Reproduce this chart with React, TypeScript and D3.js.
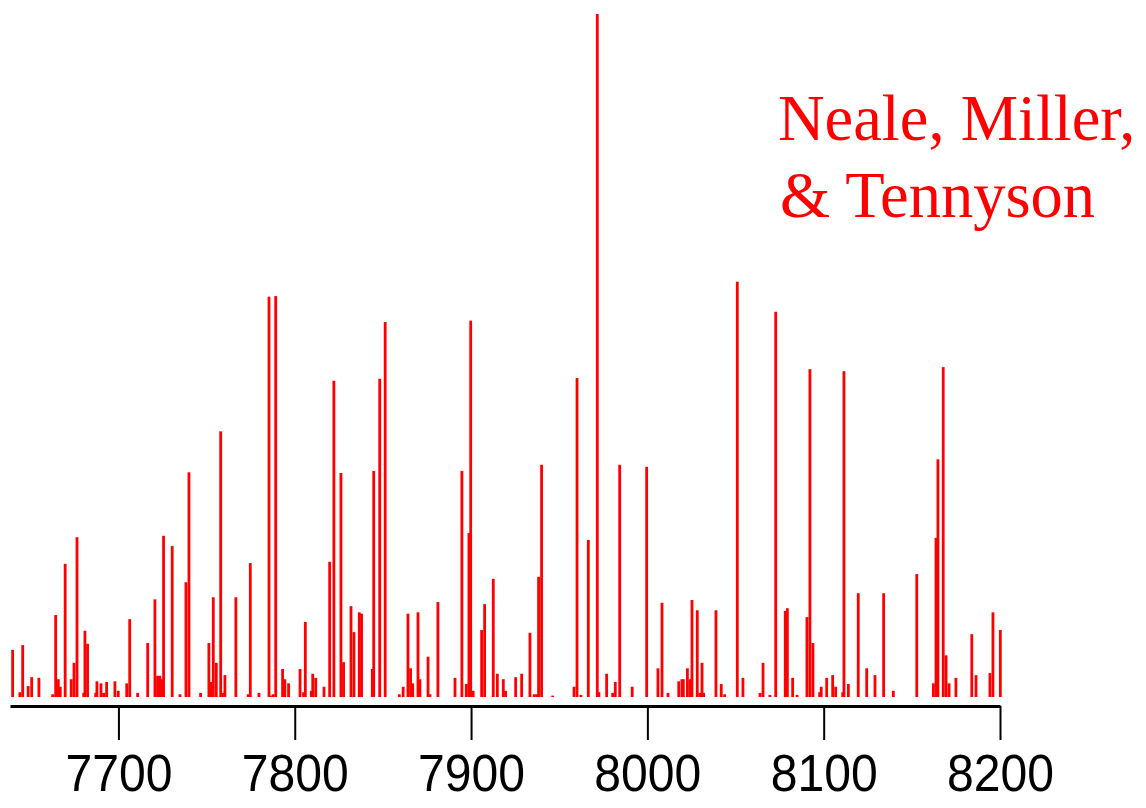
import React, { useRef, useEffect } from 'react';
import * as d3 from 'd3';

// line positions (cm-1) and relative intensities (% of strongest line)
const wavenumbers = [
  7640.0, 7644.1, 7645.7, 7648.8, 7650.8, 7654.9, 7662.7, 7664.4, 7665.9, 7667.0,
  7669.8, 7673.2, 7674.8, 7676.5, 7680.3, 7681.0, 7682.5, 7687.1, 7687.8, 7690.1,
  7691.6, 7693.3, 7698.0, 7699.9, 7704.7, 7706.4, 7710.9, 7716.6, 7720.7, 7722.2,
  7723.5, 7724.8, 7725.6, 7730.5, 7734.9, 7738.3, 7740.0, 7746.6, 7751.3, 7752.6,
  7753.8, 7755.5, 7758.0, 7759.1, 7760.4, 7766.6, 7773.6, 7774.8, 7779.7, 7785.4,
  7786.5, 7787.8, 7789.2, 7793.1, 7794.4, 7796.5, 7803.0, 7805.0, 7806.0, 7809.4,
  7810.2, 7811.9, 7816.6, 7819.8, 7822.2, 7826.2, 7827.7, 7831.9, 7833.6, 7836.6,
  7837.9, 7844.0, 7844.8, 7848.2, 7851.3, 7859.3, 7861.5, 7864.2, 7865.7, 7866.9,
  7869.9, 7871.0, 7875.6, 7876.7, 7881.2, 7890.9, 7894.8, 7897.3, 7898.8, 7899.8,
  7901.2, 7906.0, 7907.7, 7912.6, 7914.9, 7918.3, 7919.6, 7925.3, 7928.7, 7933.4,
  7935.8, 7937.2, 7938.3, 7940.0, 7946.3, 7958.4, 7960.1, 7962.3, 7966.5, 7971.6,
  7972.5, 7976.9, 7980.3, 7981.8, 7984.3, 7991.4, 7999.6, 8006.0, 8008.3, 8011.7,
  8017.8, 8019.6, 8020.4, 8022.7, 8024.2, 8025.3, 8028.3, 8029.8, 8031.0, 8031.9,
  8038.9, 8041.9, 8043.8, 8051.0, 8054.2, 8063.9, 8065.6, 8069.5, 8072.8, 8078.2,
  8079.4, 8082.4, 8084.9, 8090.5, 8092.2, 8093.9, 8097.7, 8098.6, 8101.7, 8105.1,
  8106.8, 8110.8, 8111.5, 8114.0, 8119.6, 8124.4, 8129.1, 8134.0, 8139.5, 8152.8,
  8162.2, 8163.7, 8164.8, 8167.8, 8169.4, 8171.1, 8175.0, 8184.0, 8186.4, 8194.3,
  8196.0, 8200.2,
];

const intensities = [
  6.9, 0.7, 7.6, 1.6, 2.9, 2.8, 0.4, 12.0, 2.6, 1.5,
  19.5, 2.6, 5.0, 23.4, 0.6, 9.7, 7.8, 0.6, 2.3, 2.0,
  0.6, 2.2, 2.3, 0.9, 2.0, 11.4, 0.6, 7.9, 14.3, 3.1,
  3.1, 2.6, 23.6, 22.1, 0.4, 16.8, 32.9, 0.6, 7.9, 2.2,
  14.6, 5.0, 38.9, 0.6, 3.2, 14.6, 0.4, 19.6, 0.6, 58.6,
  0.2, 0.4, 58.7, 4.1, 2.6, 2.0, 4.1, 0.7, 11.0, 0.9,
  3.4, 2.8, 1.5, 19.8, 46.3, 32.8, 5.1, 13.3, 9.5, 12.4,
  12.2, 4.1, 33.1, 46.6, 54.9, 0.4, 1.5, 12.2, 4.2, 2.0,
  12.4, 2.6, 5.9, 0.4, 13.9, 2.8, 33.1, 1.9, 24.0, 55.1,
  0.9, 9.8, 13.6, 17.3, 3.4, 2.6, 0.9, 2.9, 3.4, 9.4,
  0.4, 0.4, 17.6, 34.0, 0.2, 1.5, 46.7, 0.3, 23.0, 100,
  0.7, 3.4, 0.6, 2.2, 34.0, 1.5, 33.7, 4.2, 13.8, 0.6,
  2.3, 2.6, 2.6, 4.2, 2.6, 14.2, 12.7, 0.6, 5.0, 0.6,
  12.7, 1.9, 0.4, 60.8, 2.8, 0.6, 5.0, 0.3, 56.4, 12.6,
  13.0, 2.8, 0.3, 11.7, 48.0, 7.9, 0.7, 1.5, 2.8, 3.2,
  1.5, 0.7, 47.7, 1.9, 15.2, 4.2, 3.2, 15.2, 0.9, 18.0,
  2.0, 23.3, 34.8, 48.3, 6.1, 2.0, 2.8, 9.2, 3.2, 3.5,
  12.4, 9.8,
];

const tickValues = [7700, 7800, 7900, 8000, 8100, 8200];
const labelLines = ['Neale, Miller,', '& Tennyson'];

const App = () => {
  const svgRef = useRef(null);

  useEffect(() => {
    const svg = d3.select(svgRef.current);
    svg.selectAll('*').remove();

    const width = 1146;
    const height = 808;
    const axisY = 706;
    const baseY = 697;

    svg.attr('width', width).attr('height', height);

    const x = d3.scaleLinear().domain([7638.5, 8200]).range([10, 1000]);
    const y = d3.scaleLinear().domain([0, 100]).range([baseY, 14]);

    const lines = wavenumbers.map((w, i) => ({ w, v: intensities[i] }));

    svg.append('g')
      .selectAll('rect')
      .data(lines)
      .join('rect')
      .attr('x', d => x(d.w) - 1.4)
      .attr('width', 2.8)
      .attr('y', d => y(d.v))
      .attr('height', d => Math.max(1, baseY - y(d.v)))
      .attr('fill', '#ff0000');

    const axis = svg.append('g')
      .attr('transform', `translate(0,${axisY})`)
      .call(d3.axisBottom(x).tickValues(tickValues).tickSize(34).tickSizeOuter(0).tickPadding(14).tickFormat(d3.format('d')));

    axis.select('.domain').attr('stroke', '#000').attr('stroke-width', 3);
    axis.selectAll('.tick line').attr('stroke', '#000').attr('stroke-width', 2);
    axis.selectAll('.tick text')
      .attr('fill', '#000')
      .attr('font-family', '"Liberation Sans", Arial, sans-serif')
      .attr('font-size', 52)
      .attr('textLength', 107)
      .attr('lengthAdjust', 'spacingAndGlyphs');

    svg.append('g')
      .selectAll('text')
      .data(labelLines)
      .join('text')
      .attr('x', (d, i) => (i === 0 ? 778 : 780))
      .attr('y', (d, i) => (i === 0 ? 140 : 217))
      .attr('fill', '#ff0000')
      .attr('font-family', '"Liberation Serif", "Times New Roman", serif')
      .attr('font-size', 64.5)
      .text(d => d);
  }, []);

  return (
    <svg ref={svgRef} style={{ position: 'absolute', left: 0, top: 0, display: 'block', background: '#fff' }}></svg>
  );
};

export default App;
